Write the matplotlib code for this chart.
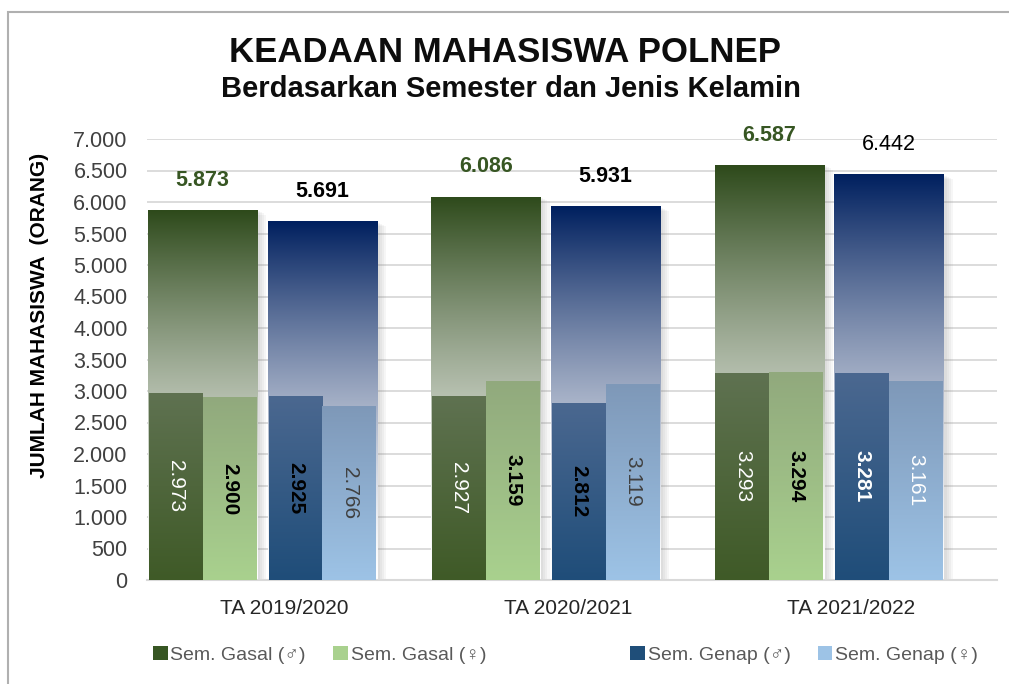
import numpy as np
import matplotlib.pyplot as plt
from matplotlib import patheffects
from matplotlib.colors import to_rgb
from matplotlib.patches import Patch, Rectangle
from matplotlib.ticker import FuncFormatter

plt.rcParams['font.family'] = ['Liberation Sans', 'DejaVu Sans']

# data
tahun = ['TA 2019/2020', 'TA 2020/2021', 'TA 2021/2022']
gasal_total = [5873, 6086, 6587]
genap_total = [5691, 5931, 6442]
gasal_l = [2973, 2927, 3293]
gasal_p = [2900, 3159, 3294]
genap_l = [2925, 2812, 3281]
genap_p = [2766, 3119, 3161]
seri = ['Sem. Gasal (♂)', 'Sem. Gasal (♀)', 'Sem. Genap (♂)', 'Sem. Genap (♀)']


def fmt(v, pos=None):
    return f"{int(v):,}".replace(',', '.')


def gradient(ax, bar, top, bottom, fade=None):
    # isi batang dengan gradasi vertikal, dipotong sesuai bentuk batang
    x0, y0 = bar.get_x(), bar.get_y()
    w, h = bar.get_width(), bar.get_height()
    t = np.linspace(1, 0, 256)[:, None]  # baris 0 = atas
    top, bottom = np.array(to_rgb(top)), np.array(to_rgb(bottom))
    if fade is not None:
        a = t ** fade
    else:
        a = t
    img = np.ones((256, 1, 4))
    img[..., :3] = (top * a[..., None] + bottom * (1 - a[..., None]))
    im = ax.imshow(img, extent=[x0, x0 + w, y0, y0 + h], aspect='auto',
                   origin='upper', zorder=bar.get_zorder() + 0.05, interpolation='bilinear')
    im.set_clip_path(bar)


fig = plt.figure(figsize=(10.09, 6.84), dpi=100)
ax = fig.add_axes([147 / 1009, 104 / 684, 850 / 1009, 441 / 684])

x = np.arange(len(tahun))
tw = 0.386
sw = 0.19
# bayangan lembut di kanan batang total
shadow = [patheffects.SimplePatchShadow(offset=(k, -k / 2), shadow_rgbFace='#808080', alpha=0.07)
          for k in (2, 3.5, 5, 6.5)] + [patheffects.Normal()]

b_gasal = ax.bar(x - 0.21, gasal_total, tw, color='white', zorder=2, path_effects=shadow)
b_genap = ax.bar(x + 0.213, genap_total, tw, color='white', zorder=2, path_effects=shadow)
for b in b_gasal:
    gradient(ax, b, '#2e4a1b', '#ffffff', fade=1.45)
for b in b_genap:
    gradient(ax, b, '#00205f', '#ffffff', fade=1.45)

b_gl = ax.bar(x - 0.21 - sw / 2, gasal_l, sw, color='#3f5b28', zorder=3)
b_gp = ax.bar(x - 0.21 + sw / 2, gasal_p, sw, color='#a9d18e', zorder=3)
b_nl = ax.bar(x + 0.213 - sw / 2, genap_l, sw, color='#1f4e79', zorder=3)
b_np = ax.bar(x + 0.213 + sw / 2, genap_p, sw, color='#9dc3e6', zorder=3)
for bars, top, bot in [(b_gl, '#5f7251', '#3f5a27'), (b_gp, '#91a97d', '#a9d18e'),
                       (b_nl, '#4b6890', '#1f4d79'), (b_np, '#7e98b8', '#9dc3e6')]:
    for b in bars:
        gradient(ax, b, top, bot)

# label total
tot_style = [('#375623', 'bold')] * 3
gen_style = [('black', 'bold'), ('black', 'bold'), ('black', 'normal')]
for bars, vals, styles in [(b_gasal, gasal_total, tot_style), (b_genap, genap_total, gen_style)]:
    for b, v, (c, wt) in zip(bars, vals, styles):
        ax.text(b.get_x() + b.get_width() / 2, v + 470, fmt(v), ha='center', va='center',
                fontsize=15.5, color=c, fontweight=wt, zorder=5)

# label batang kecil (vertikal)
sub_styles = [
    (b_gl, gasal_l, [('white', 'normal')] * 3),
    (b_gp, gasal_p, [('black', 'bold')] * 3),
    (b_nl, genap_l, [('black', 'bold'), ('black', 'bold'), ('white', 'bold')]),
    (b_np, genap_p, [('#404040', 'normal'), ('#404040', 'normal'), ('white', 'normal')]),
]
for bars, vals, styles in sub_styles:
    for b, v, (c, wt) in zip(bars, vals, styles):
        ax.text(b.get_x() + b.get_width() / 2, v / 2, fmt(v), rotation=270,
                ha='center', va='center', fontsize=15, color=c, fontweight=wt, zorder=5)

ax.set_xlim(-0.406, 2.594)
ax.set_ylim(0, 7000)
ax.set_yticks(np.arange(0, 7001, 500))
ax.yaxis.set_major_formatter(FuncFormatter(fmt))
ax.set_xticks(x + 0.08)
ax.set_xticklabels(tahun)
ax.tick_params(axis='y', length=0, pad=14, labelsize=15.5, labelcolor='#404040')
ax.tick_params(axis='x', length=0, pad=14, labelsize=15, labelcolor='#262626')
ax.grid(axis='y', color='#d9d9d9', lw=1.3)
ax.set_axisbelow(True)
for s in ['top', 'right', 'left']:
    ax.spines[s].set_visible(False)
ax.spines['bottom'].set_color('#d9d9d9')
ax.spines['bottom'].set_linewidth(1.5)

fig.text(40 / 1009, 1 - 315 / 684, 'JUMLAH MAHASISWA  (ORANG)', rotation=90,
         ha='center', va='center', fontsize=15, fontweight='bold', color='black')
fig.text(505 / 1009, 1 - 52 / 684, 'KEADAAN MAHASISWA POLNEP', ha='center', va='center',
         fontsize=25, fontweight='bold', color='#0d0d0d')
fig.text(511 / 1009, 1 - 89 / 684, 'Berdasarkan Semester dan Jenis Kelamin', ha='center',
         va='center', fontsize=21, fontweight='bold', color='#0d0d0d')

# legenda
warna = ['#375623', '#a9d18e', '#1f4e79', '#9dc3e6']
handles = [Patch(facecolor=c) for c in warna]
for i, x0 in [(0, 153), (2, 630)]:
    leg = fig.legend(handles[i:i + 2], seri[i:i + 2], ncol=2, loc='center left',
                     bbox_to_anchor=(x0 / 1009, 1 - 655 / 684), frameon=False,
                     fontsize=14, handlelength=0.75, handleheight=0.75, handletextpad=0.15,
                     columnspacing=1.4, borderpad=0, borderaxespad=0)
    for t in leg.get_texts():
        t.set_color('#595959')

# bingkai
fig.patches.append(Rectangle((8 / 1009, -0.1), 1.2, 1.1 - 12 / 684, transform=fig.transFigure,
                             fill=False, edgecolor='#b0b0b0', lw=1.5))

fig.savefig('out.png', dpi=100)
